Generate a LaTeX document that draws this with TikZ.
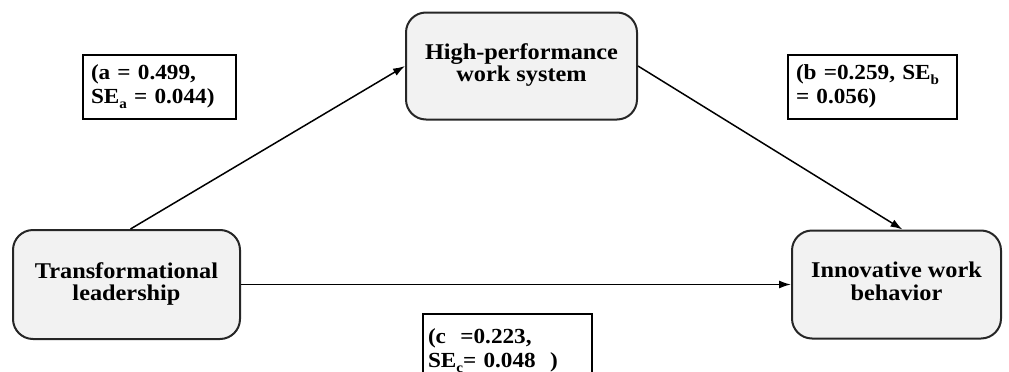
\documentclass[tikz,border=0pt]{standalone}
\usepackage{fontspec}
\setmainfont{Liberation Serif}[FakeStretch=1.08]
\usepackage{tikz}
\usetikzlibrary{arrows,arrows.meta,positioning}
\definecolor{boxfill}{HTML}{F2F2F2}
\newcommand{\coefsub}[1]{\raisebox{-5pt}{\fontsize{14}{14}\selectfont #1}}

\begin{document}
\begin{tikzpicture}[
    x=1pt, y=-1pt,
    >={Latex[length=12pt,width=8pt]},
    font=\bfseries,
    construct/.style={
		rectangle,
		rounded corners=20pt,
		draw=black!85,
		line width=2pt,
		fill=boxfill,
		text centered,
		font=\bfseries\fontsize{22.5}{22}\selectfont
	},
	coef/.style={
		rectangle,
		draw=black,
		line width=1.8pt,
		fill=white,
		inner xsep=8pt,
		align=left,
		minimum height=64pt,
		font=\bfseries\fontsize{21.5}{24}\selectfont
	},
	path/.style={
		->,
		line width=1.5pt
	}
  ]
  \useasboundingbox (0,0) rectangle (1009,372);

    % the three constructs

  \node [construct, minimum width=231pt, minimum height=107pt] (hpws) at (521.5,66)
 {%
 \begin{tabular}{c}
  High-performance\\
  work system
 \end{tabular}
 };

  \node [construct, minimum width=227pt, minimum height=109pt] (tl) at (126.5,284.5)
 {%
 \begin{tabular}{c}
  Transformational\\
  leadership
 \end{tabular}
 };

  \node [construct, minimum width=209pt, minimum height=108pt] (iwb) at (896.5,284.5)
 {%
 \begin{tabular}{c}
  Innovative work\\
  behavior
 \end{tabular}
 };

    % the coefficients

  \node [coef, text width=137pt] (coefa) at (159.5,87)
 {%
 \begin{tabular}{@{}l@{}}
  (a = 0.499,\\
  SE\coefsub{a} = 0.044)
 \end{tabular}
 };

  \node [coef, text width=153pt] (coefb) at (872.5,87)
 {%
 \begin{tabular}{@{}l@{}}
  (b =0.259, SE\coefsub{b}\\
  = 0.056)
 \end{tabular}
 };

  \node [coef, minimum height=74pt, anchor=north, inner xsep=5pt, text width=159pt] (coefc) at (507.5,313)
 {%
 \begin{tabular}{@{}l@{}}
  (c \ =0.223,\\
  SE\coefsub{c}= 0.048 \ )
 \end{tabular}
 };

 \draw [path] ([xshift=4pt]tl.north) -- (hpws.west);
 \draw [path] (hpws.east) -- ([xshift=6pt]iwb.north);
 \draw [path] (tl.east) -- (iwb.west);

\end{tikzpicture}
\end{document}
